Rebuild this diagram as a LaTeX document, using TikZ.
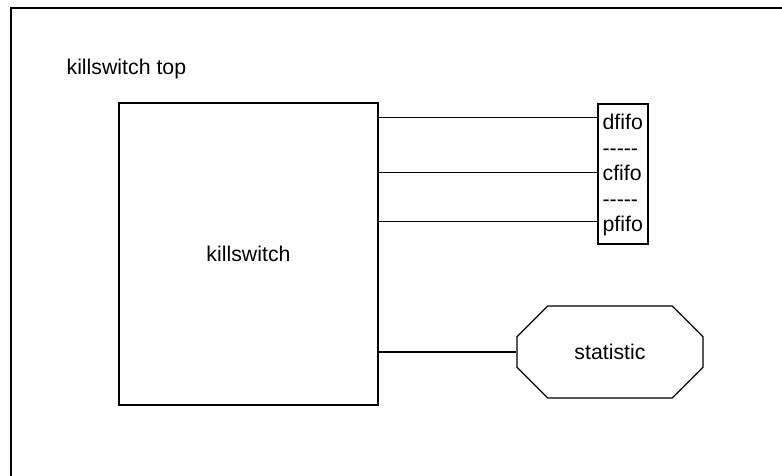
\documentclass[tikz,border=0pt]{standalone}
\usepackage{fontspec}
\setmainfont{Liberation Sans}
\usetikzlibrary{shapes.misc}

\begin{document}
\begin{tikzpicture}[x=1pt,y=-1pt,line width=1.2pt,
    every node/.style={font=\fontsize{21.3}{25.5}\selectfont},
    box/.style={draw, rectangle, inner sep=0pt},
    rowtext/.style={anchor=base west, inner sep=0pt}]
      \useasboundingbox (0,0) rectangle (782,475);
      \clip (0,0) rectangle (782,475);

      % Frame of the top level
        \draw (11,8) rectangle (800,500);
        \node[rowtext] (title) at (66,74) {killswitch top};

      % Core block
        \node[box, minimum width=259, minimum height=302] (ks) at (248.5,254) {killswitch};

      % FIFO stack (kerns keep the dashes from turning into ligatures)
        \node[box, minimum width=50, minimum height=140] (fifo) at (623,174) {};
        \node[rowtext] (dfifo) at (602,129.5) {dfifo};
        \node[rowtext] (dsep)  at (602,155)   {-\kern0pt-\kern0pt-\kern0pt-\kern0pt-};
        \node[rowtext] (cfifo) at (602,180.5) {cfifo};
        \node[rowtext] (csep)  at (602,206)   {-\kern0pt-\kern0pt-\kern0pt-\kern0pt-};
        \node[rowtext] (pfifo) at (602,231)   {pfifo};

        \coordinate (din) at ([yshift=-14pt]fifo.north west);
        \coordinate (cin) at ([yshift=-69pt]fifo.north west);
        \coordinate (pin) at ([yshift=-118pt]fifo.north west);

      % Statistics
        \node[draw, chamfered rectangle, chamfered rectangle xsep=33pt,
              chamfered rectangle ysep=23pt, inner sep=0pt,
              minimum width=186, minimum height=92] (stat) at (610,352) {statistic};

        \draw (ks.east |- din) -- (din);
        \draw (ks.east |- cin) -- (cin);
        \draw (ks.east |- pin) -- (pin);
        \draw (ks.east |- stat) -- (stat.west);

    \end{tikzpicture}
\end{document}
